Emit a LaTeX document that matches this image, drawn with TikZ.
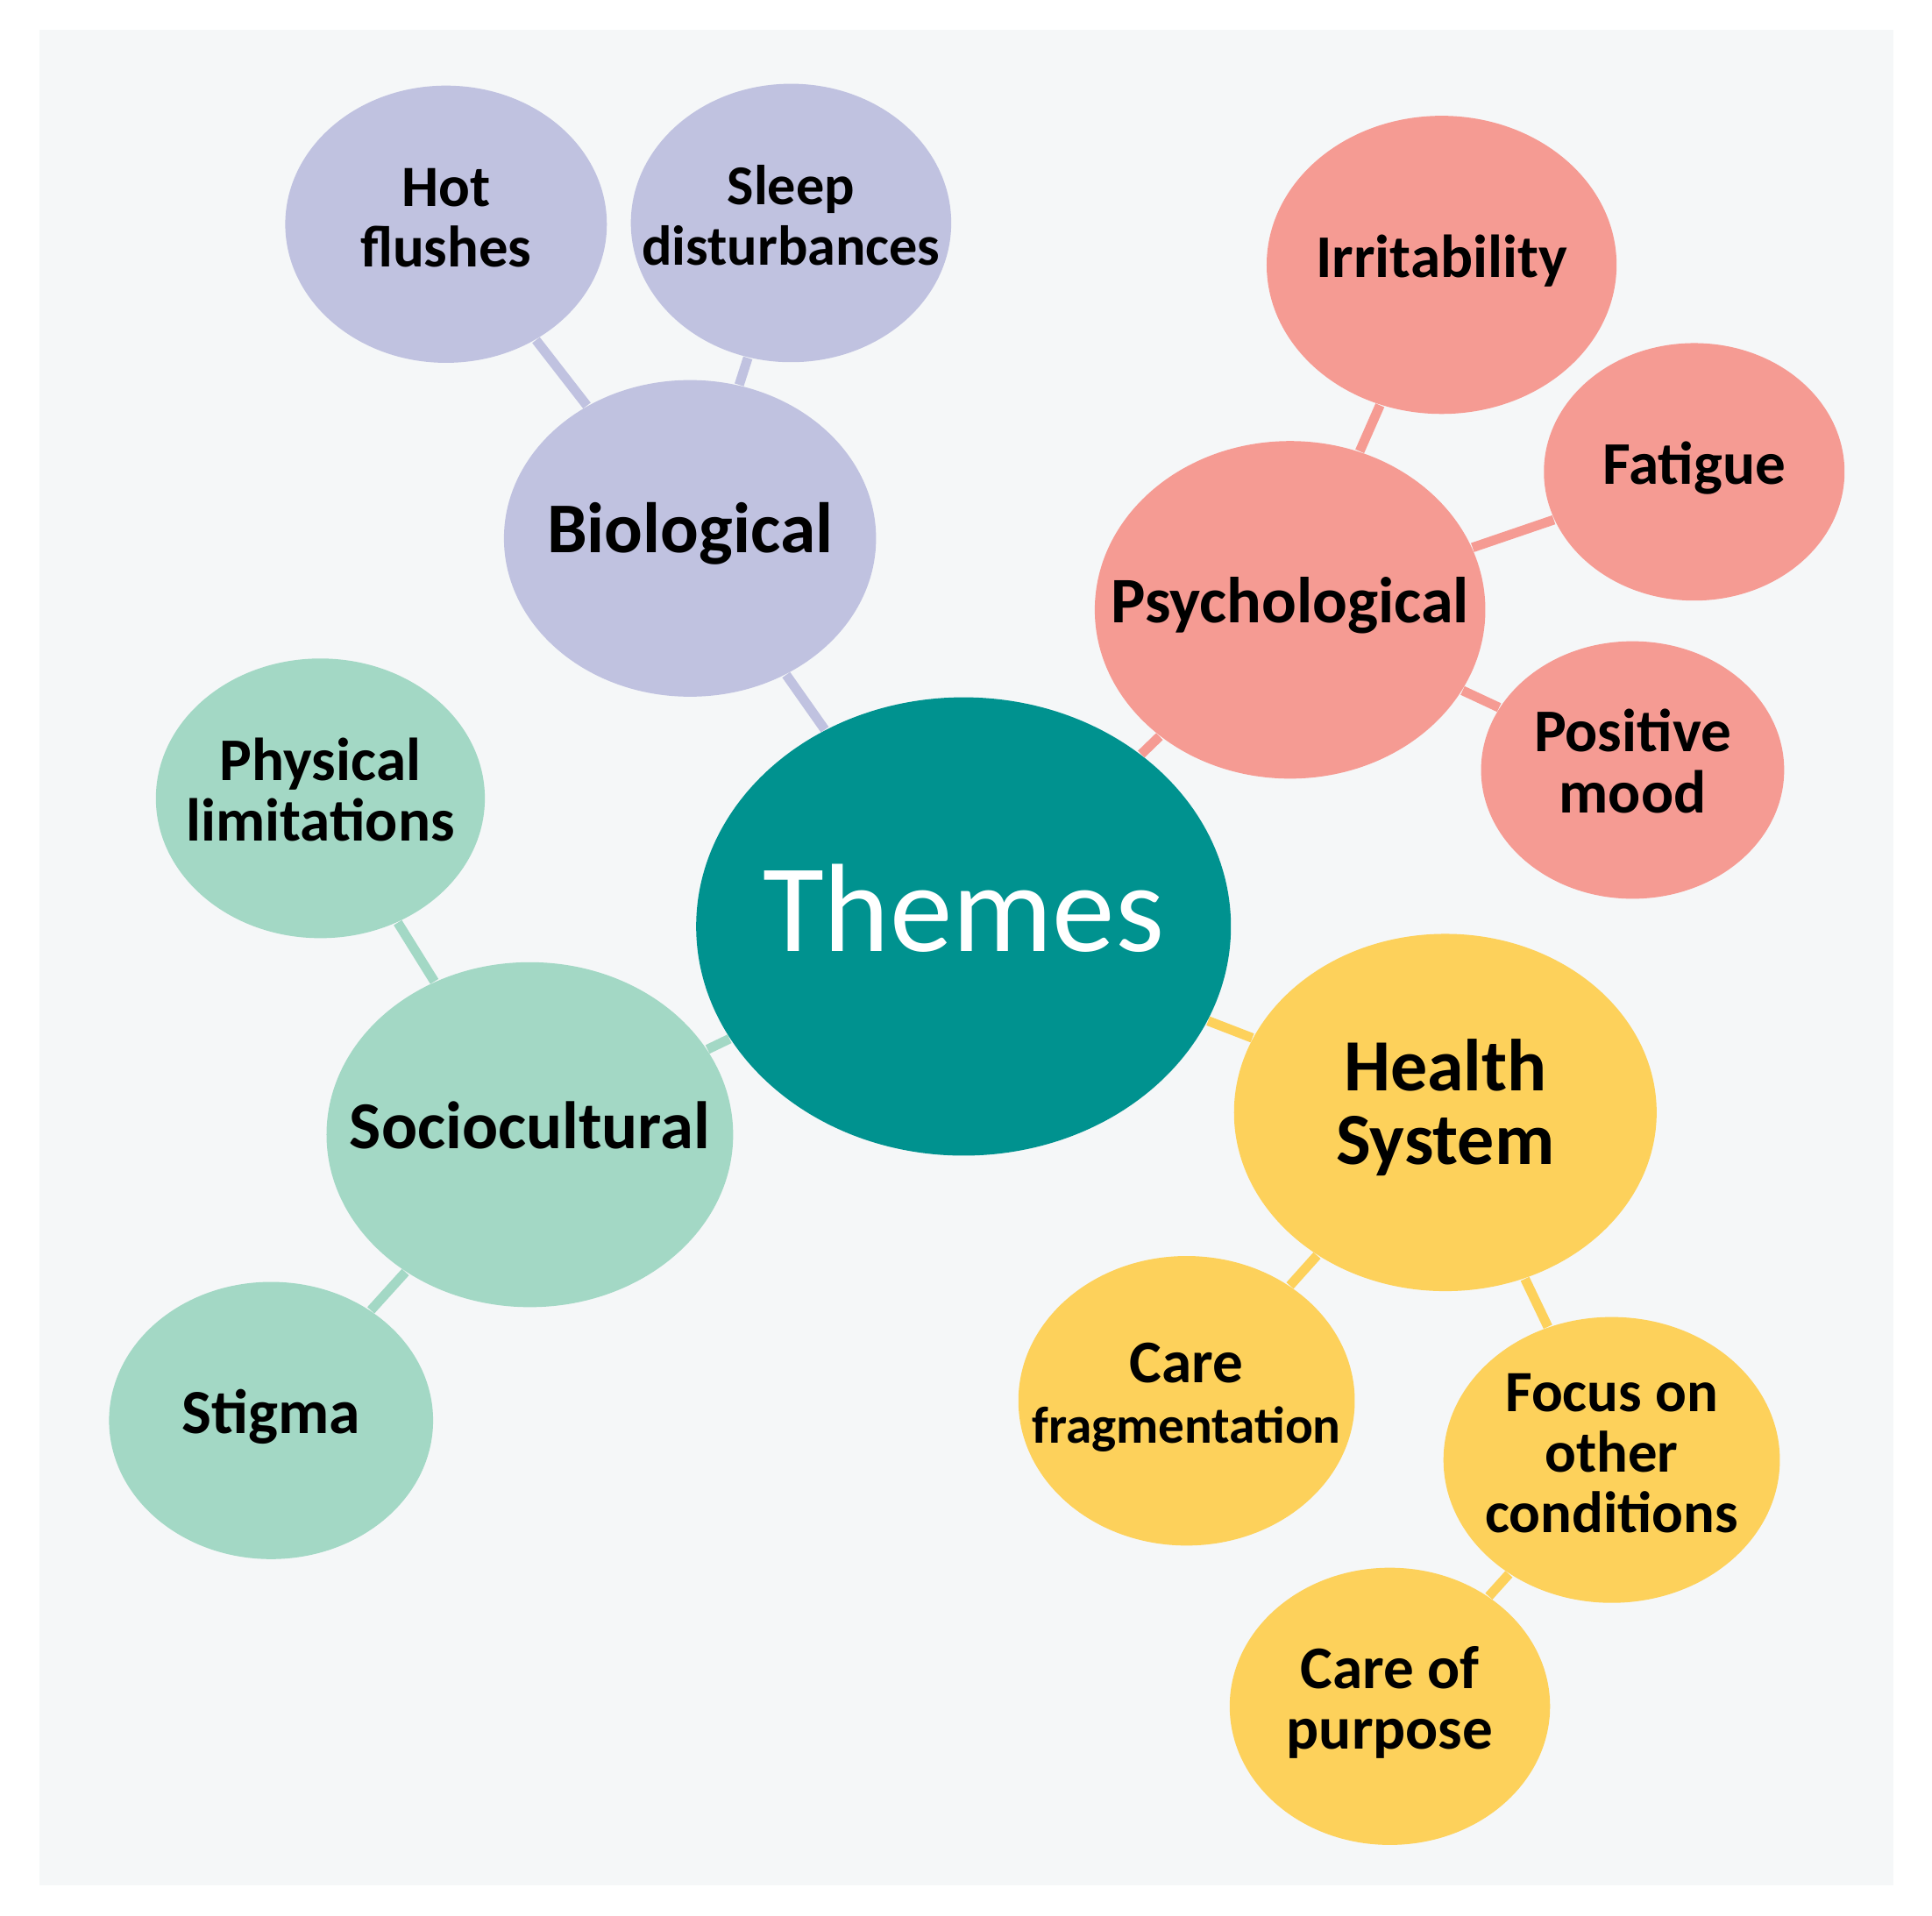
\documentclass[tikz,border=0pt]{standalone}
\usepackage{fontspec}
\setmainfont{Carlito}
\usetikzlibrary{shapes.geometric}

\definecolor{panelgray}{HTML}{F5F7F8}
\definecolor{themeteal}{HTML}{00928F}
\definecolor{biolilac}{HTML}{C0C2E0}
\definecolor{psysalmon}{HTML}{F59B93}
\definecolor{hsyellow}{HTML}{FDD15B}
\definecolor{socmint}{HTML}{A3D8C5}

% centred lines of a bubble, kept out of the node size
\newcommand{\bubbletext}[1]{\makebox[0pt]{\begin{tabular}{@{}c@{}}#1\end{tabular}}}

\begin{document}
\begin{tikzpicture}[
    bubble/.style={ellipse, inner sep=0pt, text=black, font=\bfseries\fontsize{14}{14}\selectfont},
    sz/.style 2 args={minimum width=#1cm, minimum height=#2cm},
    theme/.style={bubble, fill=themeteal, text=white, font=\fontsize{29}{29}\selectfont},
    bio/.style={bubble, fill=biolilac},
    psy/.style={bubble, fill=psysalmon},
    health/.style={bubble, fill=hsyellow},
    socio/.style={bubble, fill=socmint},
    link/.style={line width=2.2pt}]

   \useasboundingbox (0,0) rectangle (15.68,15.55);
   \fill[panelgray] (0.32,0.25) rectangle (15.37,15.31);

   % centre
   \node[theme, sz={4.34}{3.72}] (themes) at (7.82,8.03) {\bubbletext{Themes}};

   % biological
   \node[bio, sz={3.02}{2.57}, font=\bfseries\fontsize{16.5}{16}\selectfont] (bio) at (5.60,11.18) {\bubbletext{Biological}};
   \node[bio, sz={2.61}{2.25}, font=\bfseries\fontsize{13.5}{14}\selectfont] (hot) at (3.62,13.73) {\bubbletext{Hot\\flushes}};
   \node[bio, sz={2.60}{2.26}, font=\bfseries\fontsize{13}{14}\selectfont] (sleep) at (6.42,13.74) {\bubbletext{Sleep\\disturbances}};

   % psychological
   \node[psy, sz={3.17}{2.74}, font=\bfseries\fontsize{15}{15}\selectfont] (psych) at (10.47,10.60) {\bubbletext{Psychological}};
   \node[psy, sz={2.84}{2.42}] (irrit) at (11.70,13.40) {\bubbletext{Irritability}};
   \node[psy, sz={2.44}{2.09}] (fatigue) at (13.75,11.72) {\bubbletext{Fatigue}};
   \node[psy, sz={2.46}{2.09}] (mood) at (13.25,9.30) {\bubbletext{Positive\\mood}};

   % health system
   \node[health, sz={3.43}{2.90}, font=\bfseries\fontsize{17}{17}\selectfont] (hs) at (11.73,6.52) {\bubbletext{Health\\System}};
   \node[health, sz={2.73}{2.35}] (frag) at (9.63,4.18) {\bubbletext{Care\\{\fontsize{12}{12}\selectfont fragmentation}}};
   \node[health, sz={2.73}{2.32}, font=\bfseries\fontsize{13.5}{14}\selectfont] (focus) at (13.08,3.70) {\bubbletext{Focus on\\other\\conditions}};
   \node[health, sz={2.60}{2.25}] (purpose) at (11.28,1.70) {\bubbletext{Care of\\purpose}};

   % sociocultural
   \node[socio, sz={3.30}{2.80}, font=\bfseries\fontsize{15.5}{15}\selectfont] (socio) at (4.30,6.34) {\bubbletext{Sociocultural}};
   \node[socio, sz={2.67}{2.27}] (phys) at (2.60,9.07) {\bubbletext{Physical\\limitations}};
   \node[socio, sz={2.63}{2.25}, font=\bfseries\fontsize{14.5}{14}\selectfont] (stigma) at (2.20,4.02) {\bubbletext{Stigma}};

   \draw[link, biolilac] (themes) to (bio);
   \draw[link, biolilac] (bio) to (hot);
   \draw[link, biolilac] (bio) to (sleep);
   \draw[link, psysalmon] (themes) to (psych);
   \draw[link, psysalmon] (psych) to (irrit);
   \draw[link, psysalmon] (psych) to (fatigue);
   \draw[link, psysalmon] (psych) to (mood);
   \draw[link, hsyellow] (themes) to (hs);
   \draw[link, hsyellow] (hs) to (frag);
   \draw[link, hsyellow] (hs) to (focus);
   \draw[link, hsyellow] (focus) to (purpose);
   \draw[link, socmint] (themes) to (socio);
   \draw[link, socmint] (socio) to (phys);
   \draw[link, socmint] (socio) to (stigma);
\end{tikzpicture}
\end{document}
